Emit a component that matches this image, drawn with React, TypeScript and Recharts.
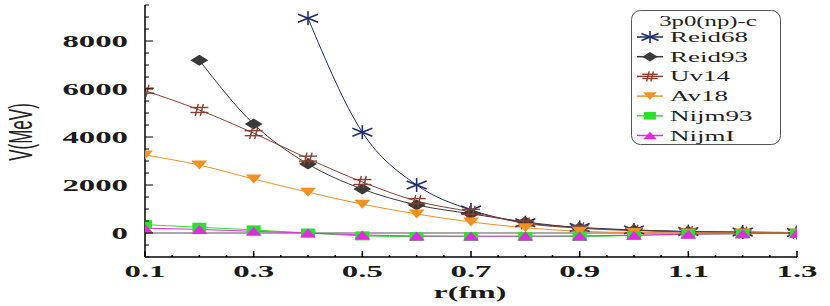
import React from "react";
import { LineChart, Line, XAxis, YAxis, ReferenceLine, Legend } from "recharts";

const rValues = [0.1, 0.2, 0.3, 0.4, 0.5, 0.6, 0.7, 0.8, 0.9, 1.0, 1.1, 1.2, 1.3];
const reid68 = [null, null, null, 8950, 4200, 2000, 960, 430, 230, 130, 60, 40, 20];
const reid93 = [null, 7200, 4540, 2875, 1830, 1170, 800, 460, 220, 120, 60, 30, 10];
const uv14 = [5930, 5125, 4160, 3100, 2125, 1330, 880, 400, 200, 100, 50, 20, 10];
const av18 = [3250, 2830, 2250, 1700, 1200, 790, 460, 220, 70, 20, 0, 0, 0];
const nijm93 = [350, 240, 130, 0, -120, -150, -150, -150, -150, -100, -50, -30, -10];
const nijmI = [200, 150, 70, 0, -80, -120, -130, -130, -120, -90, -50, -30, -10];

const xTicks = [0.1, 0.15, 0.2, 0.25, 0.3, 0.35, 0.4, 0.45, 0.5, 0.55, 0.6, 0.65, 0.7, 0.75, 0.8, 0.85, 0.9, 0.95, 1.0, 1.05, 1.1, 1.15, 1.2, 1.25, 1.3];
const xLabels = [0.1, 0.3, 0.5, 0.7, 0.9, 1.1, 1.3];
const yTicks = [-1000, -500, 0, 500, 1000, 1500, 2000, 2500, 3000, 3500, 4000, 4500, 5000, 5500, 6000, 6500, 7000, 7500, 8000, 8500, 9000, 9500];
const yLabels = [0, 2000, 4000, 6000, 8000];

const legendTitle = "3p0(np)-c";

const SERIF = "'Liberation Serif', 'Times New Roman', serif";
const SANS = "'Liberation Sans', Arial, sans-serif";

type Shape = "star" | "diamond" | "hash" | "down" | "square" | "up";

const series: { key: string; name: string; color: string; shape: Shape; values: (number | null)[] }[] = [
  { key: "reid68", name: "Reid68", color: "#1e2c6e", shape: "star", values: reid68 },
  { key: "reid93", name: "Reid93", color: "#3a3a3a", shape: "diamond", values: reid93 },
  { key: "uv14", name: "Uv14", color: "#8c3f2e", shape: "hash", values: uv14 },
  { key: "av18", name: "Av18", color: "#f29020", shape: "down", values: av18 },
  { key: "nijm93", name: "Nijm93", color: "#2ee02e", shape: "square", values: nijm93 },
  { key: "nijmI", name: "NijmI", color: "#e02ce0", shape: "up", values: nijmI },
];

const data = rValues.map((r, i) => {
  const row: Record<string, number | null> = { r };
  series.forEach((s) => {
    row[s.key] = s.values[i];
  });
  return row;
});

function Marker({ cx, cy, shape, color, k = 1 }: { cx: number; cy: number; shape: Shape; color: string; k?: number }) {
  if (cx == null || cy == null || isNaN(cx) || isNaN(cy)) return null;
  switch (shape) {
    case "star":
      return (
        <g stroke={color} strokeWidth={1.6} fill="none">
          <line x1={cx} y1={cy - 7 * k} x2={cx} y2={cy + 7 * k} />
          <line x1={cx - 10 * k} y1={cy - 4 * k} x2={cx + 10 * k} y2={cy + 4 * k} />
          <line x1={cx - 10 * k} y1={cy + 4 * k} x2={cx + 10 * k} y2={cy - 4 * k} />
        </g>
      );
    case "diamond":
      return (
        <polygon
          points={`${cx - 9 * k},${cy} ${cx},${cy - 5.5 * k} ${cx + 9 * k},${cy} ${cx},${cy + 5.5 * k}`}
          fill={color}
        />
      );
    case "hash":
      return (
        <g stroke={color} strokeWidth={1.4} fill="none">
          <line x1={cx - 9 * k} y1={cy - 2.5 * k} x2={cx + 9 * k} y2={cy - 2.5 * k} />
          <line x1={cx - 9 * k} y1={cy + 2.5 * k} x2={cx + 9 * k} y2={cy + 2.5 * k} />
          <line x1={cx - 4 * k} y1={cy + 6 * k} x2={cx - 1 * k} y2={cy - 6 * k} />
          <line x1={cx + 1 * k} y1={cy + 6 * k} x2={cx + 4 * k} y2={cy - 6 * k} />
        </g>
      );
    case "down":
      return (
        <polygon points={`${cx - 8 * k},${cy - 4.5 * k} ${cx + 8 * k},${cy - 4.5 * k} ${cx},${cy + 4.5 * k}`} fill={color} />
      );
    case "up":
      return (
        <polygon points={`${cx - 8 * k},${cy + 4.5 * k} ${cx + 8 * k},${cy + 4.5 * k} ${cx},${cy - 4.5 * k}`} fill={color} />
      );
    case "square":
      return <rect x={cx - 7 * k} y={cy - 4.5 * k} width={14 * k} height={9 * k} fill={color} />;
  }
  return null;
}

const XTick = (props: any) => {
  const { x, y, payload } = props;
  const v = Math.round(payload.value * 100) / 100;
  const major = xLabels.some((t) => Math.abs(t - v) < 1e-6);
  return (
    <g>
      <line x1={x} y1={y} x2={x} y2={y - (major ? 6 : 2)} stroke="#000" strokeWidth={1.5} />
      {major && (
        <text
          transform={`translate(${x},${y + 20}) scale(2.05,1)`}
          textAnchor="middle"
          style={{ fontFamily: SERIF, fontWeight: "bold", fontSize: 16 }}
          fill="#1a1a1a"
        >
          {v.toFixed(1)}
        </text>
      )}
    </g>
  );
};

const YTick = (props: any) => {
  const { x, y, payload } = props;
  const v = payload.value;
  const major = yLabels.includes(v);
  return (
    <g>
      <line x1={x} y1={y} x2={x + (major ? 8 : 4)} y2={y} stroke="#000" strokeWidth={1} />
      {major && (
        <text
          transform={`translate(${x - 17},${y + 5.5}) scale(2.05,1)`}
          textAnchor="end"
          style={{ fontFamily: SERIF, fontWeight: "bold", fontSize: 16 }}
          fill="#1a1a1a"
        >
          {v}
        </text>
      )}
    </g>
  );
};

const LegendBox = () => (
  <svg width={150} height={136} style={{ display: "block" }}>
    <rect x={0.5} y={0.5} width={149} height={134} rx={9} ry={9} fill="#fff" stroke="#555" strokeWidth={1} />
    <text
      transform={`translate(77,16) scale(1.65,1)`}
      textAnchor="middle"
      style={{ fontFamily: SERIF, fontSize: 15 }}
      fill="#222"
    >
      {legendTitle}
    </text>
    {series.map((s, i) => {
      const by = 32 + i * 19.7;
      const cy = by - 5;
      return (
        <g key={s.key}>
          <line x1={6} y1={cy} x2={32} y2={cy} stroke={s.color} strokeWidth={1.5} />
          <Marker cx={19} cy={cy} shape={s.shape} color={s.color} k={0.85} />
          <text
            transform={`translate(39,${by}) scale(1.8,1)`}
            style={{ fontFamily: SERIF, fontSize: 15 }}
            fill="#222"
          >
            {s.name}
          </text>
        </g>
      );
    })}
  </svg>
);

export default function App() {
  return (
    <div style={{ position: "absolute", left: 0, top: 0, width: 830, height: 306, background: "#fff" }}>
      <LineChart width={830} height={306} data={data} margin={{ top: 5, right: 33, left: 0, bottom: 0 }}>
        <XAxis
          dataKey="r"
          type="number"
          domain={[0.1, 1.3]}
          ticks={xTicks}
          interval={0}
          height={49}
          tickSize={0}
          tickMargin={0}
          tickLine={false}
          axisLine={{ stroke: "#000", strokeWidth: 1.5 }}
          tick={<XTick />}
          allowDataOverflow
        />
        <XAxis
          xAxisId="top"
          orientation="top"
          dataKey="r"
          type="number"
          domain={[0.1, 1.3]}
          height={0}
          tick={false}
          tickLine={false}
          axisLine={{ stroke: "#000", strokeWidth: 1.5 }}
        />
        <YAxis
          type="number"
          domain={[-1000, 9500]}
          ticks={yTicks}
          interval={0}
          width={145}
          tickSize={0}
          tickMargin={0}
          tickLine={false}
          axisLine={{ stroke: "#000", strokeWidth: 1.5 }}
          tick={<YTick />}
          allowDataOverflow
        />
        <YAxis
          yAxisId="right"
          orientation="right"
          type="number"
          domain={[-1000, 9500]}
          width={0}
          tick={false}
          tickLine={false}
          axisLine={{ stroke: "#000", strokeWidth: 1.5 }}
        />
        <ReferenceLine y={0} stroke="#555" strokeWidth={1.2} />
        {series.map((s) => (
          <Line
            key={s.key}
            dataKey={s.key}
            name={s.name}
            type="monotone"
            stroke={s.color}
            strokeWidth={1}
            isAnimationActive={false}
            dot={(p: any) => <Marker key={`${s.key}-${p.index}`} cx={p.cx} cy={p.cy} shape={s.shape} color={s.color} />}
            activeDot={false}
          />
        ))}
        <Legend
          layout="horizontal"
          verticalAlign="middle"
          align="center"
          wrapperStyle={{ left: 631, top: 10, width: 150, height: 136 }}
          content={() => <LegendBox />}
        />
        <text
          transform="translate(21,132) scale(2,1) rotate(-90)"
          textAnchor="middle"
          dominantBaseline="central"
          style={{ fontFamily: SANS, fontSize: 17 }}
          fill="#222"
        >
          V(MeV)
        </text>
        <text
          transform="translate(470,298) scale(2,1)"
          textAnchor="middle"
          style={{ fontFamily: SERIF, fontWeight: "bold", fontSize: 16 }}
          fill="#1a1a1a"
        >
          r(fm)
        </text>
      </LineChart>
    </div>
  );
}
